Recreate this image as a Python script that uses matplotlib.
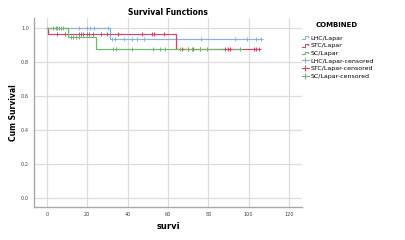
import numpy as np
import matplotlib
matplotlib.use('Agg')
import matplotlib.pyplot as plt
from matplotlib.lines import Line2D
from matplotlib.legend_handler import HandlerLine2D

# step curves (time, cumulative survival)
lhc_t = [0, 31.3, 106.7]
lhc_s = [1.0, 0.935, 0.935]
stc_t = [0, 0.5, 63.9, 105.5]
stc_s = [1.0, 0.966, 0.876, 0.876]
sc_t = [0, 10.3, 24.3, 96.0]
sc_s = [1.0, 0.949, 0.876, 0.876]

# censored times
lhc_cens = [15.9, 20, 21.3, 23.3, 30.4, 32.4, 33.8, 38.4, 42, 44.5, 48,
            76.3, 93.3, 99.1, 103.7, 106.2]
stc_cens = [5.1, 8.9, 15.9, 16.9, 17.7, 20, 21, 22.6, 26.6, 29.9, 35.1, 47,
            52, 53.1, 58.1, 66.8, 69.8, 72.6, 75.9, 88.3, 89.6, 90.8,
            102.4, 103.7, 105.2]
sc_cens = [3.1, 4.3, 5.1, 6.1, 6.8, 8.1, 11.8, 13, 14.2, 16, 32.9, 34.2, 42,
           52.8, 56.1, 58.6, 66, 70.1, 71.8, 75.9, 79.3, 95.8]

names = ['LHC/Lapar', 'STC/Lapar', 'SC/Lapar']
colors = ['#86b2e4', '#d4456a', '#6cb86c']


def surv_at(t, st, ss):
    i = np.searchsorted(st, t, side='right') - 1
    return np.array(ss)[i]


class StepHandler(HandlerLine2D):
    def create_artists(self, legend, orig, xd, yd, w, h, fontsize, trans):
        x = np.array([0, 0.45, 0.45, 0.9, 0.9]) * w - xd
        y = np.array([0.2, 0.2, 0.8, 0.8, 0.55]) * h - yd
        ln = Line2D(x, y, color=orig.get_color(), lw=orig.get_linewidth())
        ln.set_transform(trans)
        return [ln]


fig = plt.figure(figsize=(4.06, 2.40), dpi=100)
ax = fig.add_axes([0.0837, 0.1375, 0.6603, 0.7875])

curves = [(lhc_t, lhc_s, lhc_cens), (stc_t, stc_s, stc_cens), (sc_t, sc_s, sc_cens)]
for (t, s, c), col in zip(curves, colors):
    ax.step(t, s, where='post', color=col, lw=0.85, zorder=3)
    ax.plot(c, surv_at(c, t, s), '+', color=col, ms=3.0, mew=0.7, zorder=4)

ax.set_xlim(-6.4, 126.4)
ax.set_ylim(-0.055, 1.061)
ax.set_xticks(np.arange(0, 121, 20))
ax.set_yticks(np.arange(0, 1.01, 0.2))
ax.set_yticklabels(['%.1f' % v for v in np.arange(0, 1.01, 0.2)])
ax.grid(True, color='#dcdcdc', lw=0.9)
ax.set_axisbelow(True)
ax.tick_params(length=0, labelsize=3.6, labelcolor='#444444', pad=3.5)
for sp in ['top', 'right']:
    ax.spines[sp].set_visible(False)
for sp in ['left', 'bottom']:
    ax.spines[sp].set_color('#a8a8a8')
    ax.spines[sp].set_linewidth(1.0)

ax.set_title('Survival Functions', fontsize=5.5, fontweight='bold', pad=2.5)
ax.set_xlabel('survi', fontsize=6, fontweight='bold', labelpad=4)
ax.set_ylabel('Cum Survival', fontsize=5.5, fontweight='bold', labelpad=2.5)

handles = [Line2D([], [], color=c, lw=0.8) for c in colors]
handles += [Line2D([], [], color=c, lw=0.8, marker='+', ms=5, mew=0.8) for c in colors]
labels = names + [n + '-censored' for n in names]
hmap = {h: StepHandler() for h in handles[:3]}
fig.text(337 / 406, 1 - 25 / 240, 'COMBINED', fontsize=5, fontweight='bold',
         ha='center', va='center')
fig.legend(handles, labels, loc='upper left', bbox_to_anchor=(0.733, 1 - 31 / 240),
           frameon=False, fontsize=4.5, borderpad=0.2,
           handlelength=1.1, handletextpad=0.25, labelspacing=0.36,
           handler_map=hmap)

fig.savefig('out.png', dpi=100)
